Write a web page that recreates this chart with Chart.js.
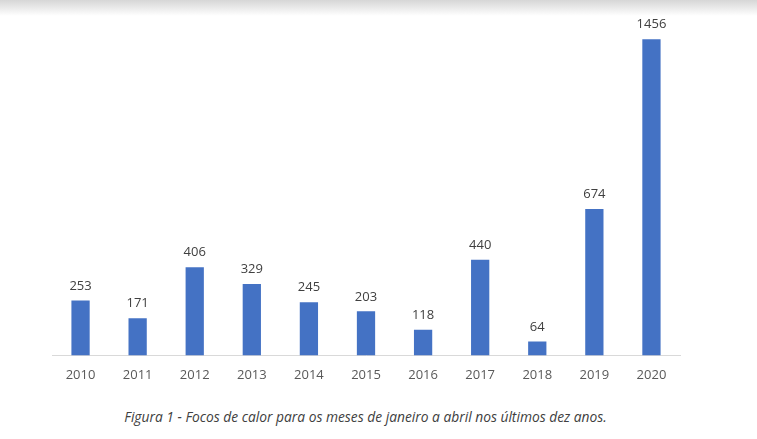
<!DOCTYPE html>
<html>
<head>
<meta charset="utf-8">
<script src="https://cdn.jsdelivr.net/npm/chart.js@4"></script>
<style>
  html, body { margin: 0; padding: 0; background: #fff; }
  body { width: 757px; height: 439px; position: relative; overflow: hidden; font-family: 'Open Sans', sans-serif; }
  #shade { position: absolute; left: 0; top: 0; width: 757px; height: 16px;
    background: linear-gradient(to bottom, #d6d6d6, #ffffff); }
  #wrap { position: absolute; left: 0; top: 0; width: 757px; height: 395px; }
  #caption { position: absolute; left: 0; width: 731px; padding-left: 0; top: 407px; text-align: center;
    font-style: italic; font-size: 13.8px; color: #404040; }
</style>
</head>
<body>
<div id="shade"></div>
<div id="wrap"><canvas id="chart"></canvas></div>
<div id="caption">Figura 1 - Focos de calor para os meses de janeiro a abril nos últimos dez anos.</div>
<script>
const YEARS = ['2010', '2011', '2012', '2013', '2014', '2015', '2016', '2017', '2018', '2019', '2020'];
const FOCOS = [253, 171, 406, 329, 245, 203, 118, 440, 64, 674, 1456];

// value labels above each bar
const valueLabels = {
  id: 'valueLabels',
  afterDatasetsDraw(chart) {
    const ctx = chart.ctx;
    ctx.save();
    ctx.font = '13px "Open Sans"';
    ctx.fillStyle = '#404040';
    ctx.textAlign = 'center';
    ctx.textBaseline = 'bottom';
    chart.getDatasetMeta(0).data.forEach((bar, i) => {
      ctx.fillText(FOCOS[i], bar.x, bar.y - 8);
    });
    ctx.restore();
  }
};

new Chart(document.getElementById('chart'), {
  type: 'bar',
  data: { labels: YEARS, datasets: [{ data: FOCOS, backgroundColor: '#4472c4',
    categoryPercentage: 1, barPercentage: 0.32 }] },
  options: {
    responsive: true, maintainAspectRatio: false, animation: false,
    layout: { padding: { left: 52, right: 77, top: 8, bottom: 0 } },
    plugins: { legend: { display: false }, tooltip: { enabled: false } },
    scales: {
      x: { grid: { display: false, drawTicks: false },
        border: { color: '#d9d9d9', width: 1 },
        ticks: { color: '#595959', font: { family: 'Open Sans', size: 13 }, padding: 12 } },
      y: { display: false, min: 0, max: 1600 }
    }
  },
  plugins: [valueLabels]
});
</script>
</body>
</html>
